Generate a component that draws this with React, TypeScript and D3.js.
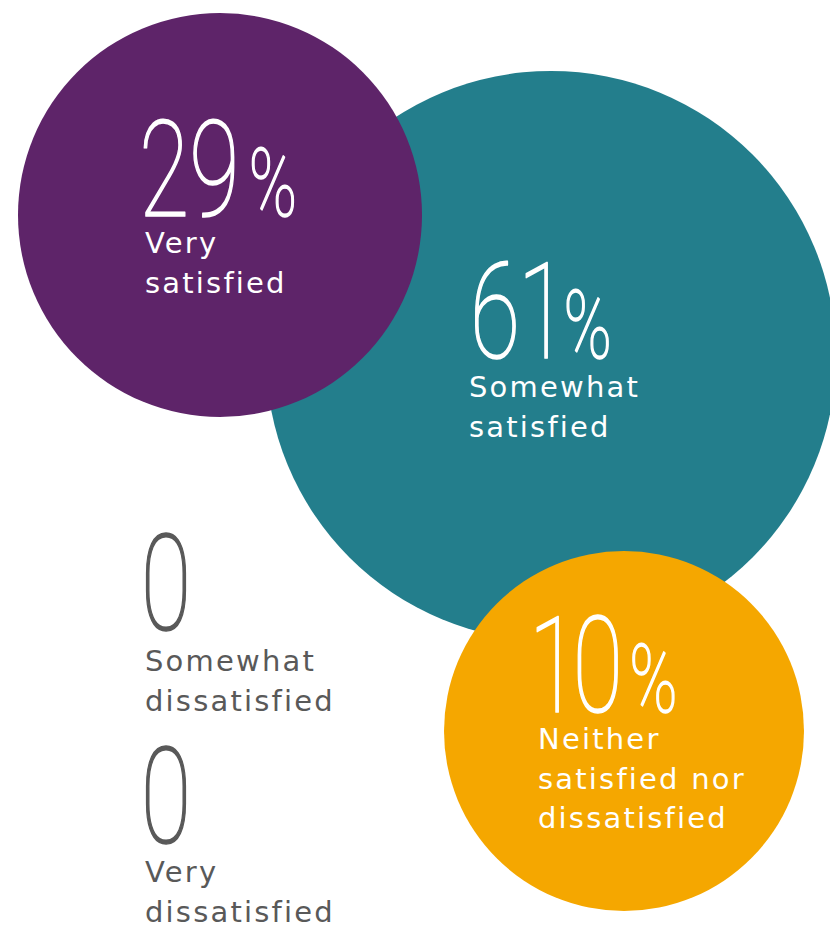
import React from "react";
import * as d3 from "d3";

const categories = [
  "Very satisfied",
  "Somewhat satisfied",
  "Neither satisfied nor dissatisfied",
  "Somewhat dissatisfied",
  "Very dissatisfied",
];
const values = [29, 61, 10, 0, 0];
const labelLines = [
  ["Very", "satisfied"],
  ["Somewhat", "satisfied"],
  ["Neither", "satisfied nor", "dissatisfied"],
  ["Somewhat", "dissatisfied"],
  ["Very", "dissatisfied"],
];
const colors = ["#5E2469", "#237E8C", "#F5A700", "none", "none"];

// layout constants (not data)
const W = 830;
const H = 930;
const centers: [number, number][] = [
  [220, 215],
  [551, 356],
  [624, 731],
  [0, 0],
  [0, 0],
];
// [digit x, digit baseline, label x, first label baseline]
const textPos: [number, number, number, number][] = [
  [139, 216, 145, 253],
  [469, 358, 469, 397],
  [531, 712, 538, 749],
  [140, 630, 145, 671],
  [140, 843, 145, 882],
];
// gap before the % sign (unscaled units)
const pctGap = [12, 4, 8, 0, 0];
const drawOrder = [1, 0, 2];

export default function App() {
  const r = d3.scaleLinear().domain([10, 29, 61]).range([180, 202, 285]);
  const fmt = d3.format("d");
  return (
    <svg
      width={W}
      height={H}
      style={{ position: "absolute", left: 0, top: 0, background: "#fff" }}
    >
      {drawOrder.map((i) =>
        values[i] > 0 ? (
          <circle
            key={"c" + i}
            cx={centers[i][0]}
            cy={centers[i][1]}
            r={r(values[i])}
            fill={colors[i]}
          />
        ) : null
      )}
      {categories.map((cat, i) => {
        const [tx, nb, lx, lb] = textPos[i];
        const hasBubble = values[i] > 0;
        const fg = hasBubble ? "#ffffff" : "#595959";
        return (
          <g key={"t" + i} aria-label={cat}>
            <g transform={`translate(${tx},${nb}) scale(0.69,1)`}>
              <text
                x={0}
                y={0}
                fill={fg}
                stroke={fg}
                strokeWidth={1.7}
                strokeLinejoin="round"
                fontFamily="Roboto, 'DejaVu Sans', sans-serif"
                fontWeight={100}
                fontSize={133}
                style={{ fontVariantNumeric: "proportional-nums" }}
              >
                {fmt(values[i])}
                {hasBubble ? (
                  <tspan fontSize={94} dx={pctGap[i]}>
                    %
                  </tspan>
                ) : null}
              </text>
            </g>
            {labelLines[i].map((ln, j) => (
              <text
                key={j}
                x={lx}
                y={lb + j * 39.5}
                fill={fg}
                fontFamily="'DejaVu Sans', sans-serif"
                fontSize={29}
                letterSpacing={2.2}
              >
                {ln}
              </text>
            ))}
          </g>
        );
      })}
    </svg>
  );
}
